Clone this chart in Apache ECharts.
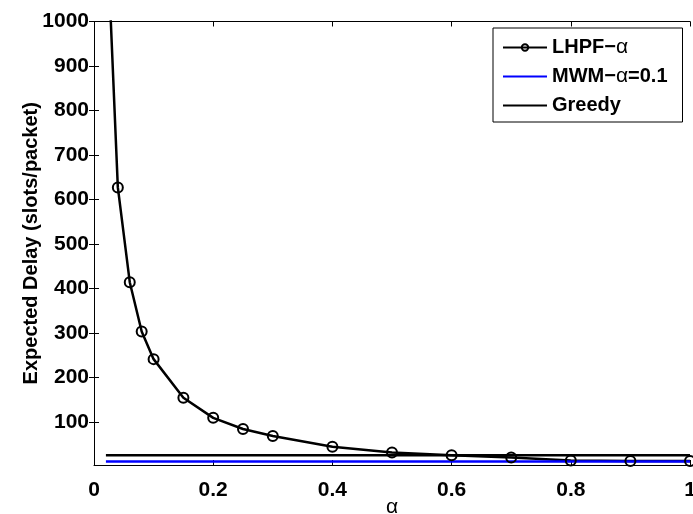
<!DOCTYPE html>
<html>
<head>
<meta charset="utf-8">
<script src="https://cdn.jsdelivr.net/npm/echarts@6/dist/echarts.min.js"></script>
<style>html,body{margin:0;padding:0;background:#fff}#c{width:693px;height:514px}</style>
</head>
<body>
<div id="c"></div>
<script>
const alphas = [0.02, 0.04, 0.06, 0.08, 0.1, 0.15, 0.2, 0.25, 0.3, 0.4, 0.5, 0.6, 0.7, 0.8, 0.9, 1.0];
const lhpf = [1260, 627, 414, 303, 241, 154, 109, 84, 68, 44, 31, 25, 20, 13, 12, 12];
const mwmAlpha = [0.02, 1.0];
const mwm = [11, 11];
const greedyAlpha = [0.02, 1.0];
const greedy = [25, 25];
const yTicks = [100, 200, 300, 400, 500, 600, 700, 800, 900, 1000];
const xTicks = [0, 0.2, 0.4, 0.6, 0.8, 1];

const zip = (a, b) => a.map((x, i) => [x, b[i]]);
const FONT = '"Liberation Sans", Arial, Helvetica, sans-serif';

const chart = echarts.init(document.getElementById('c'), null, {renderer: 'canvas'});
const axisLine = {show: true, lineStyle: {color: '#000', width: 1}};
const tick = {show: true, inside: true, length: 5, lineStyle: {color: '#000'}};
chart.setOption({
  animation: false,
  backgroundColor: '#fff',
  grid: {left: 94, right: 3, top: 21.5, bottom: 49, containLabel: false, outerBoundsMode: 'none'},
  xAxis: [{
    type: 'value', min: 0, max: 1, position: 'bottom',
    name: 'α', nameLocation: 'middle', nameGap: 32, nameMoveOverlap: false,
    nameTextStyle: {fontFamily: FONT, fontSize: 21, color: '#000'},
    axisLine: axisLine,
    axisTick: Object.assign({customValues: xTicks}, tick),
    axisLabel: {fontFamily: FONT, fontSize: 21, fontWeight: 'bold', color: '#000', margin: 15,
      customValues: xTicks, formatter: v => String(+(+v).toFixed(1))},
    splitLine: {show: false}
  }, {
    type: 'value', min: 0, max: 1, position: 'top',
    axisLine: axisLine,
    axisTick: Object.assign({customValues: xTicks}, tick),
    axisLabel: {show: false, customValues: xTicks}, splitLine: {show: false}
  }],
  yAxis: [{
    type: 'value', min: 3, max: 1000, position: 'left',
    name: 'Expected Delay (slots/packet)', nameLocation: 'middle', nameGap: 53, nameMoveOverlap: false,
    nameTextStyle: {fontFamily: FONT, fontSize: 20, fontWeight: 'bold', color: '#000'},
    axisLine: axisLine,
    axisTick: Object.assign({customValues: yTicks}, tick),
    axisLabel: {fontFamily: FONT, fontSize: 21, fontWeight: 'bold', color: '#000', margin: 5,
      customValues: yTicks, formatter: v => String(v)},
    splitLine: {show: false}
  }, {
    type: 'value', min: 3, max: 1000, position: 'right',
    axisLine: axisLine,
    axisTick: Object.assign({customValues: yTicks}, tick),
    axisLabel: {show: false, customValues: yTicks}, splitLine: {show: false}
  }],
  legend: {
    orient: 'vertical', left: 493, top: 28,
    backgroundColor: '#fff', borderColor: '#000', borderWidth: 1,
    padding: [8, 15, 5, 9], itemGap: 6, itemWidth: 44, itemHeight: 8,
    textStyle: {fontFamily: FONT, fontSize: 20, fontWeight: 'bold', color: '#000', lineHeight: 23,
      rich: {a: {fontFamily: FONT, fontSize: 21, fontWeight: 'normal', color: '#000', lineHeight: 23}}},
    formatter: name => name.replace('α', '{a|α}'),
    data: [
      {name: 'LHPF−α'},
      {name: 'MWM−α=0.1', itemStyle: {opacity: 0}},
      {name: 'Greedy', itemStyle: {opacity: 0}}
    ]
  },
  series: [{
    name: 'LHPF−α', type: 'line', data: zip(alphas, lhpf),
    symbol: 'circle', symbolSize: 10, clip: true,
    lineStyle: {color: '#000', width: 2.5},
    itemStyle: {color: 'rgba(255,255,255,0)', borderColor: '#000', borderWidth: 2}
  }, {
    name: 'MWM−α=0.1', type: 'line', data: zip(mwmAlpha, mwm), symbol: 'none',
    lineStyle: {color: '#0000ff', width: 2.5}, itemStyle: {color: '#0000ff'}
  }, {
    name: 'Greedy', type: 'line', data: zip(greedyAlpha, greedy), symbol: 'none',
    lineStyle: {color: '#000', width: 2.5}, itemStyle: {color: '#000'}
  }]
});
</script>
</body>
</html>
